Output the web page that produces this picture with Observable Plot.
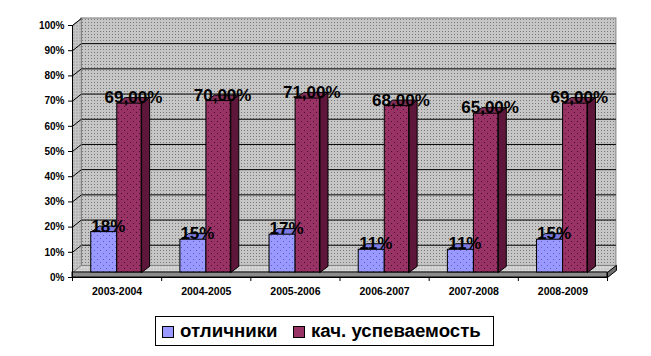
<!DOCTYPE html>
<html><head><meta charset="utf-8">
<script src="https://cdn.jsdelivr.net/npm/d3@7"></script>
<script src="https://cdn.jsdelivr.net/npm/@observablehq/plot@0.6"></script>
<style>
body{margin:0;background:#fff;}
#wrap{position:relative;width:651px;height:356px;overflow:hidden;background:#fff;}
#legend{position:absolute;left:155px;top:316px;width:339px;height:30px;box-sizing:border-box;border:1px solid #000;font:bold 14pt Arial,"Liberation Sans",sans-serif;color:#000;}
.sw{position:absolute;top:9px;width:12px;height:12px;box-sizing:border-box;border:1px solid #000;}
.lt{position:absolute;top:0;line-height:28px;white-space:nowrap;}
</style>
</head><body>
<div id="wrap"><div id="chart"></div>
<div id="legend"></div>
</div>
<script>
// ---- data ----
const years = ["2003-2004","2004-2005","2005-2006","2006-2007","2007-2008","2008-2009"];
const excellent = [18,15,17,11,11,15];
const quality = [69,70,71,68,65,69];
const excellentText = ["18%","15%","17%","11%","11%","15%"];
const qualityText = ["69,00%","70,00%","71,00%","68,00%","65,00%","69,00%"];
const yTickValues = [0,10,20,30,40,50,60,70,80,90,100];
const seriesNames = ["отличники","кач. успеваемость"];

// ---- geometry / style ----
const N = years.length;
const YMAX = yTickValues[yTickValues.length-1];
const WX = 0.1, WY = 2.8;    // wall depth
const BX = 0.09, BY = 2.4;   // bar depth
const FLOOR = 2;             // floor thickness
const BLUE = [0.21, 0.502], RED = [0.502, 0.775];

function poly(id, pts){ return pts.concat([pts[0]]).map(([x,y]) => ({id, x, y})); }

const blueFront = years.map((c,i) => ({x1:i+BLUE[0], x2:i+BLUE[1], y1:FLOOR, y2:excellent[i]}));
const redFront = years.map((c,i) => ({x1:i+RED[0], x2:i+RED[1], y1:FLOOR, y2:quality[i]}));
const blueTop = years.flatMap((c,i) => {const a=i+BLUE[0], b=i+BLUE[1], v=excellent[i];
  return poly("b"+i, [[a,v],[b,v],[b+BX,v+BY],[a+BX,v+BY]]);});
const redTop = years.flatMap((c,i) => {const a=i+RED[0], b=i+RED[1], v=quality[i];
  return poly("r"+i, [[a,v],[b,v],[b+BX,v+BY],[a+BX,v+BY]]);});
const redSide = years.flatMap((c,i) => {const b=i+RED[1], v=quality[i];
  return poly("s"+i, [[b,FLOOR],[b+BX,FLOOR+BY],[b+BX,v+BY],[b,v]]);});
const sideWall = poly("w", [[0,0],[WX,WY],[WX,YMAX+WY],[0,YMAX]]);
const floorTop = poly("f", [[0,FLOOR],[N,FLOOR],[N+WX,FLOOR+WY],[WX,FLOOR+WY]]);
const floorSide = poly("fs", [[N,0],[N+WX,WY],[N+WX,FLOOR+WY],[N,FLOOR]]);

const plot = Plot.plot({
  width: 651, height: 310,
  marginLeft: 72, marginRight: 44, marginTop: 25, marginBottom: 33,
  style: "font: bold 10px Arial, 'Liberation Sans', sans-serif; background: transparent; color: #000;",
  x: {domain: [0, N], axis: null},
  y: {domain: [0, YMAX], ticks: yTickValues, tickFormat: d => d + "%", tickSize: 4, tickPadding: 4, label: null},
  marks: [
    Plot.rect([0], {x1: () => WX, x2: () => N+WX, y1: () => WY, y2: () => YMAX+WY, fill: "url(#wallPat)", stroke: "#808080"}),
    Plot.ruleY(yTickValues.filter(d => d > 0 && d < YMAX), {y: d => d + WY, x1: () => WX, x2: () => N+WX, stroke: "#000"}),
    Plot.line(sideWall, {x: "x", y: "y", z: "id", fill: "url(#wallPat)", stroke: "#808080", strokeWidth: 1}),
    Plot.link(yTickValues.filter(d => d > 0), {x1: () => 0, y1: d => d, x2: () => WX, y2: d => d + WY, stroke: "#000"}),
    Plot.line(floorTop, {x: "x", y: "y", z: "id", fill: "url(#floorPat)", stroke: "#808080", strokeWidth: 1}),
    Plot.line(floorSide, {x: "x", y: "y", z: "id", fill: "#707070", stroke: "#000", strokeWidth: 1}),
    Plot.rect([0], {x1: () => 0, x2: () => N, y1: () => 0, y2: () => FLOOR, fill: "#8c8c8c", stroke: "#000"}),
    // blue bars
    Plot.line(blueTop, {x: "x", y: "y", z: "id", fill: "#7a7ae0", stroke: "#000", strokeWidth: 1}),
    Plot.rect(blueFront, {x1: "x1", x2: "x2", y1: "y1", y2: "y2", fill: "url(#bluePat)", stroke: "#000"}),
    // red bars
    Plot.line(redSide, {x: "x", y: "y", z: "id", fill: "url(#redSidePat)", stroke: "#000", strokeWidth: 1}),
    Plot.line(redTop, {x: "x", y: "y", z: "id", fill: "#82305a", stroke: "#000", strokeWidth: 1}),
    Plot.rect(redFront, {x1: "x1", x2: "x2", y1: "y1", y2: "y2", fill: "url(#redPat)", stroke: "#000"}),
    // axes lines & ticks
    Plot.ruleX([0], {y1: () => 0, y2: () => YMAX, stroke: "#000"}),
    Plot.ruleY([0], {x1: () => 0, x2: () => N, stroke: "#000"}),
    Plot.ruleX(d3.range(N + 1), {x: d => d, y1: () => 0, y2: () => -1.6, stroke: "#000"}),
    Plot.text(years, {x: (d,i) => i + 0.5, y: () => 0, dy: 14, text: d => d, fontSize: 10.5, fontWeight: "bold", fill: "#000"}),
    // data labels
    Plot.text(excellentText, {x: (d,i) => i + (BLUE[0]+BLUE[1])/2 + BX/2, y: (d,i) => excellent[i], dy: -6, text: d => d, fontSize: 17, fontWeight: "bold", fill: "#000"}),
    Plot.text(qualityText, {x: (d,i) => i + (RED[0]+RED[1])/2 + BX/2, y: (d,i) => quality[i], dy: -6, text: d => d, fontSize: 17, fontWeight: "bold", fill: "#000"})
  ]
});

// patterns
const svgSel = d3.select(plot.tagName.toLowerCase() === "svg" ? plot : plot.querySelector("svg"));
const defs = svgSel.insert("defs", ":first-child");
function pattern(id, w, h, base, dots){
  const p = defs.append("pattern").attr("id", id).attr("patternUnits", "userSpaceOnUse").attr("width", w).attr("height", h);
  p.append("rect").attr("width", w).attr("height", h).attr("fill", base);
  dots.forEach(([x,y,c]) => p.append("rect").attr("x", x).attr("y", y).attr("width", 1).attr("height", 1).attr("fill", c));
}
pattern("wallPat", 3, 3, "#c6c6c6", [[1,1,"#7a7a7a"]]);
pattern("floorPat", 3, 3, "#d6d6d6", [[1,1,"#9a9a9a"]]);
pattern("bluePat", 6, 6, "#9999ff", [[1,1,"#5c5cc8"],[4,4,"#5c5cc8"]]);
pattern("redPat", 6, 6, "#993366", [[1,1,"#4a0f2c"],[4,4,"#4a0f2c"]]);
pattern("redSidePat", 2, 2, "#8a2e5c", [[1,0,"#33001a"],[0,1,"#33001a"]]);

document.getElementById("chart").appendChild(plot);

// legend
const legend = document.getElementById("legend");
const items = [
  {name: seriesNames[0], fill: "#9999ff", sw: 6, tx: 24},
  {name: seriesNames[1], fill: "#993366", sw: 137, tx: 155}
];
items.forEach(it => {
  const s = document.createElement("div");
  s.className = "sw"; s.style.left = it.sw + "px"; s.style.background = it.fill;
  legend.appendChild(s);
  const t = document.createElement("div");
  t.className = "lt"; t.style.left = it.tx + "px"; t.textContent = it.name;
  legend.appendChild(t);
});
</script>
</body></html>
